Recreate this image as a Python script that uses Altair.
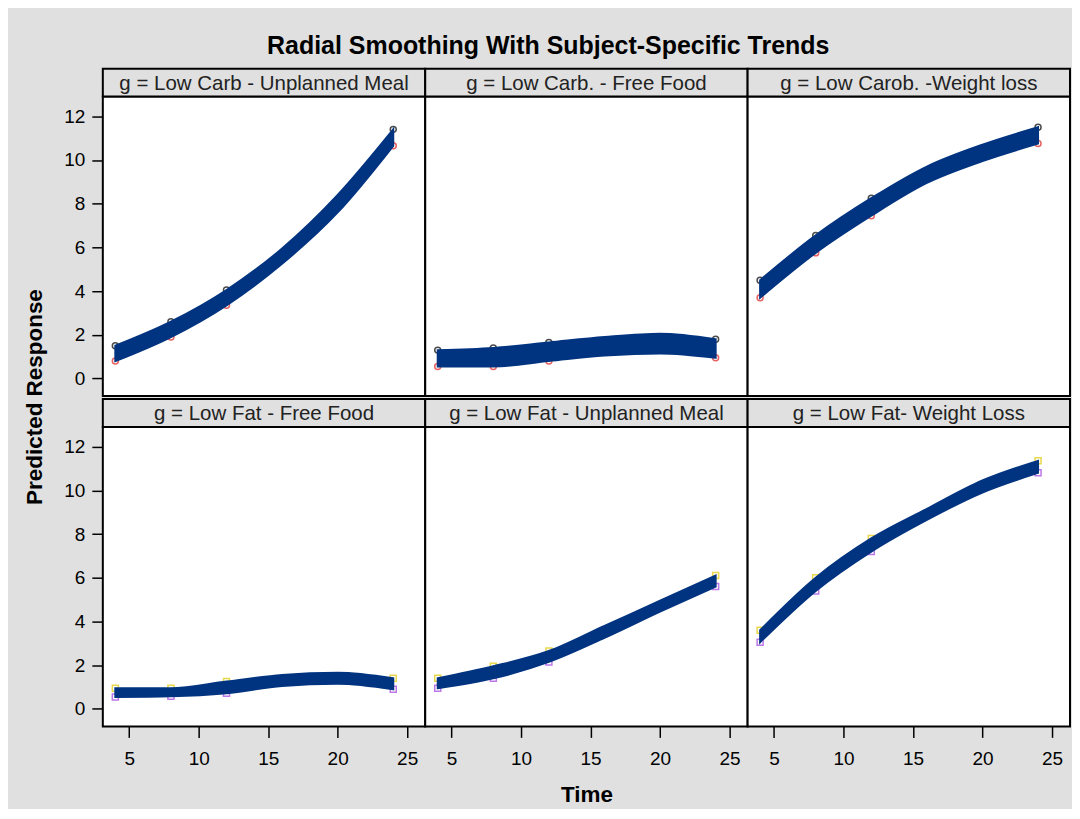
import altair as alt
import pandas as pd

NAVY = "#003380"
FONT = "Liberation Sans"

groups = [
    "g = Low Carb - Unplanned Meal",
    "g = Low Carb. - Free Food",
    "g = Low Carob. -Weight loss",
    "g = Low Fat - Free Food",
    "g = Low Fat - Unplanned Meal",
    "g = Low Fat- Weight Loss",
]
panel_row = [0, 0, 0, 1, 1, 1]
panel_col = [0, 1, 2, 0, 1, 2]
times = [4, 8, 12, 16, 20, 24]
measured_times = [4, 8, 12, 24]

# lower / upper edge of the band of subject-specific curves, per panel
lower = [
    [0.80, 1.90, 3.35, 5.25, 7.60, 10.65],
    [0.55, 0.55, 0.80, 1.05, 1.15, 0.95],
    [3.70, 5.75, 7.45, 8.95, 9.95, 10.75],
    [0.55, 0.58, 0.72, 1.05, 1.15, 0.90],
    [0.95, 1.40, 2.15, 3.25, 4.45, 5.60],
    [3.05, 5.40, 7.20, 8.65, 9.90, 10.80],
]
upper = [
    [1.50, 2.60, 4.05, 5.95, 8.40, 11.40],
    [1.30, 1.40, 1.65, 1.90, 2.05, 1.80],
    [4.50, 6.55, 8.25, 9.70, 10.70, 11.50],
    [0.95, 0.95, 1.25, 1.55, 1.65, 1.40],
    [1.40, 1.95, 2.65, 3.80, 4.95, 6.10],
    [3.60, 6.00, 7.80, 9.15, 10.45, 11.35],
]

recs = []
for i, g in enumerate(groups):
    for j, t in enumerate(times):
        recs.append(dict(g=g, r=panel_row[i], c=panel_col[i], t=t,
                         lo=lower[i][j], hi=upper[i][j]))
df = pd.DataFrame(recs)

W, H, HH = 323, 300, 28

xs = alt.Scale(domain=[3.1, 26.3], nice=False, zero=False)
ys = alt.Scale(domain=[-0.8, 12.9], nice=False, zero=False)
xax = alt.Axis(values=[5, 10, 15, 20, 25], title=None, labelPadding=12)
yax = alt.Axis(values=[0, 2, 4, 6, 8, 10, 12], title=None, labelPadding=7)

base = alt.Chart()

points = base.transform_filter(
    alt.FieldOneOfPredicate(field="t", oneOf=measured_times)
).transform_fold(["lo", "hi"], as_=["edge", "v"]).transform_calculate(
    key="datum.edge + datum.r"
).mark_point(size=36, filled=False, strokeWidth=1.5).encode(
    x=alt.X("t:Q", scale=xs, axis=xax),
    y=alt.Y("v:Q", scale=ys, axis=yax),
    color=alt.Color("key:N", scale=alt.Scale(domain=["lo0", "hi0", "lo1", "hi1"],
                                             range=["#e02020", "#000000", "#a040e0", "#e0c800"]),
                    legend=None),
    shape=alt.Shape("key:N", scale=alt.Scale(domain=["lo0", "hi0", "lo1", "hi1"],
                                             range=["circle", "circle", "square", "square"]),
                    legend=None),
)

band = base.mark_area(color=NAVY, interpolate="monotone", stroke=NAVY, strokeWidth=2).encode(
    x=alt.X("t:Q", scale=xs, axis=xax),
    y=alt.Y("lo:Q", scale=ys, axis=yax),
    y2="hi:Q",
)

hdr = base.transform_filter("datum.t == 4").mark_rect(
    fill="#e0e0e0", stroke="black", strokeWidth=2
).encode(x=alt.value(0), x2=alt.value(W), y=alt.value(-HH), y2=alt.value(0))

hdr_text = base.transform_filter("datum.t == 4").mark_text(
    font=FONT, fontSize=20.5, color="#222222", baseline="middle", align="center"
).encode(x=alt.value(W / 2), y=alt.value(-HH / 2 + 1), text="g:N")

layered = alt.layer(points, band, hdr, hdr_text).properties(width=W, height=H)

chart = layered.facet(
    data=df,
    row=alt.Row("r:O", header=alt.Header(title="Predicted Response", labels=False,
                                         labelPadding=0, titlePadding=6,
                                         titleFont=FONT, titleFontSize=22.5,
                                         titleFontWeight="bold", titleColor="black")),
    column=alt.Column("c:O", header=alt.Header(title="Time", labels=False, titleOrient="bottom",
                                               labelPadding=0, titlePadding=6,
                                               titleFont=FONT, titleFontSize=22.5,
                                               titleFontWeight="bold", titleColor="black")),
    spacing={"row": 31, "column": 0},
).properties(
    bounds="flush",
    title=alt.Title("Radial Smoothing With Subject-Specific Trends", font=FONT, fontSize=25,
                    fontWeight="bold", color="black", anchor="middle", offset=8),
    background="#e0e0e0",
    padding={"left": 16, "top": 25, "right": 0, "bottom": 1},
).configure_view(
    stroke="black", strokeWidth=2, fill="white"
).configure_axis(
    labelFont=FONT, labelFontSize=19, labelColor="black", tickColor="black",
    domain=False, grid=False, tickSize=11, tickWidth=1.5,
)

chart.save("out.html", embed_options={"renderer": "svg", "actions": False})
